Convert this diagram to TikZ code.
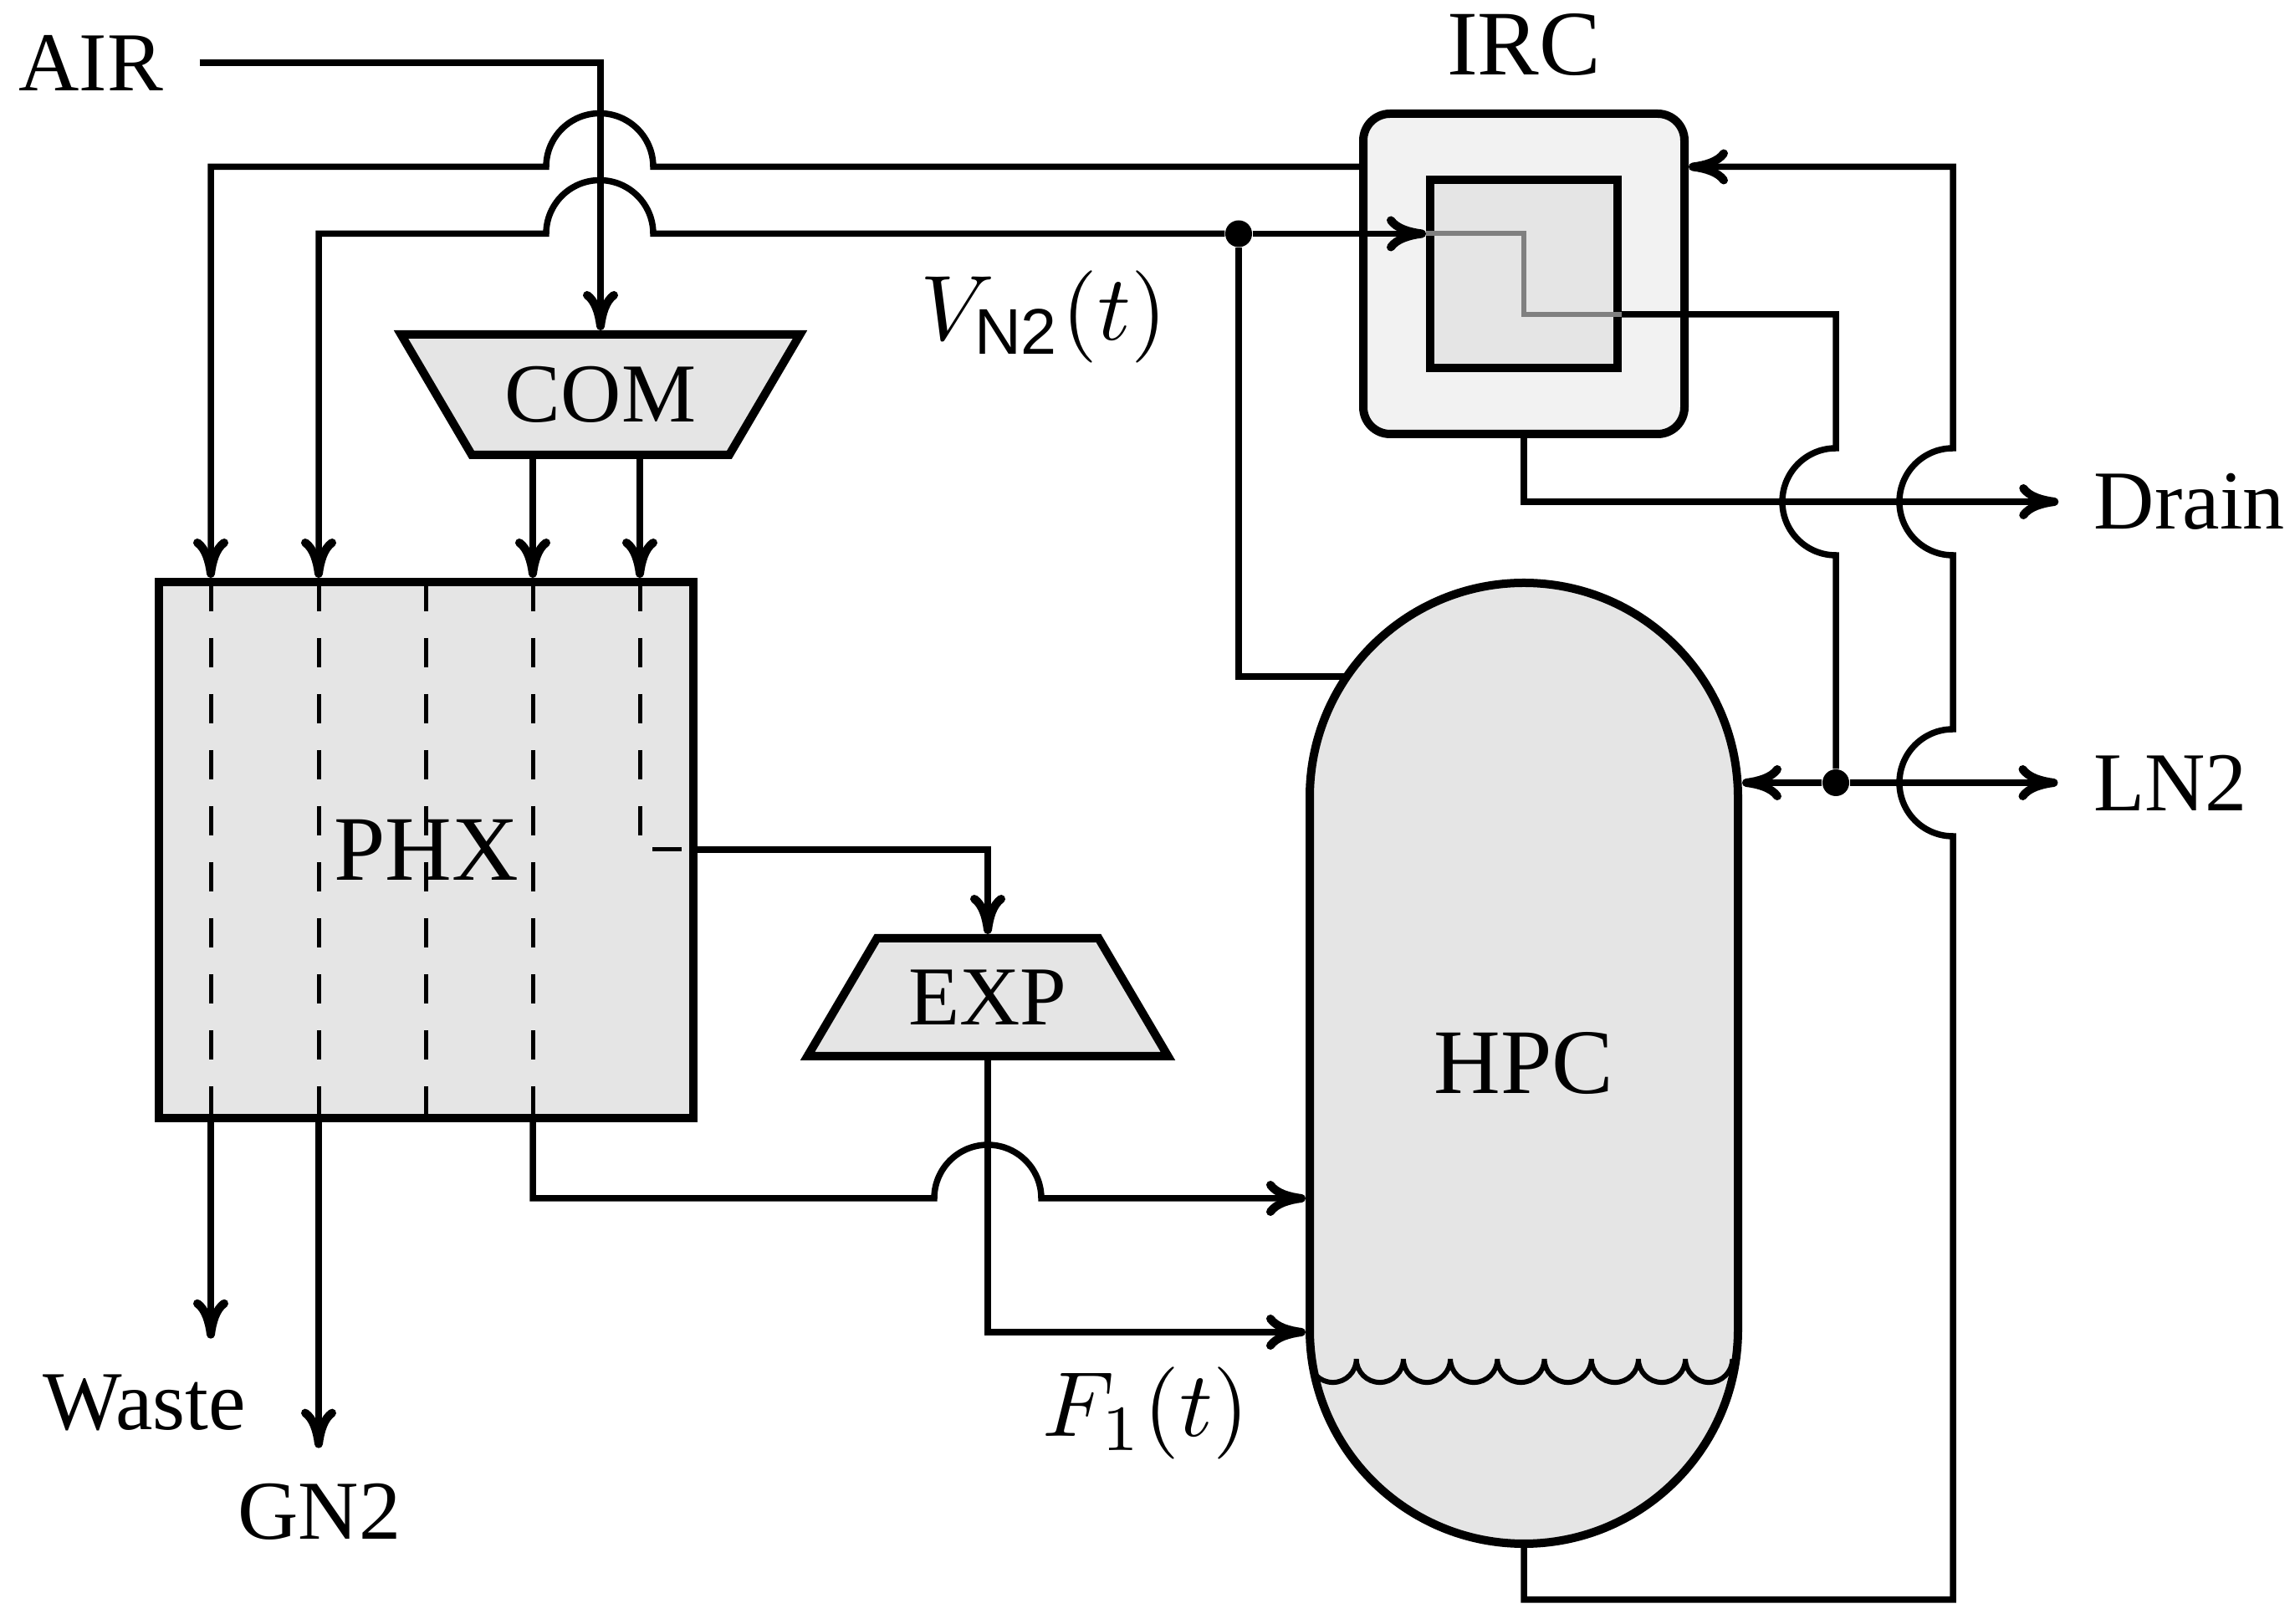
\documentclass[tikz,border=0pt]{standalone}
\usepackage{amsmath}
\usepackage[no-math]{fontspec}
\setmainfont{Liberation Serif}
\setsansfont{Liberation Sans}
\usetikzlibrary{arrows.meta,shapes.geometric}

\tikzset{
    >={Computer Modern Rightarrow[width=0.42cm,length=0.47cm,line width=0.1cm]},
    flow/.style={line width=0.075cm},
    dashflow/.style={line width=0.05cm, dash pattern=on 0.35cm off 0.32cm},
    vessel/.style={draw, line width=0.1cm, fill=black!10, font=\fontsize{28.5}{32}\selectfont},
    tag/.style={font=\fontsize{28.5}{32}\selectfont, inner sep=0.42cm},
    bigtag/.style={font=\fontsize{31.4}{36}\selectfont},
    mathtag/.style={scale=3.14},
    joint/.style={circle, fill=black, inner sep=0pt, minimum size=0.32cm}
}

\begin{document}
\begin{tikzpicture}
    \useasboundingbox (0, 0) rectangle (27.44, 19.42);

    \coordinate (colA) at (2.52, 12.46);
    \coordinate (colB) at (3.81, 12.46);
    \coordinate (colC) at (5.09, 12.46);
    \coordinate (colD) at (6.37, 12.46);
    \coordinate (colE) at (7.65, 12.46);

    \coordinate (jumpA) at (7.81, 17.425);
    \coordinate (jumpB) at (7.81, 16.625);
    \coordinate (jumpC) at (11.17, 5.09);

    \coordinate (phxOut) at (8.29, 9.26);
    \coordinate (hpcJoin) at (16.14, 11.33);
    \coordinate (hpcFeed) at (15.68, 3.49);
    \coordinate (ircBend) at (18.22, 15.66);

    \coordinate (riseA) at (21.95, 14.06);
    \coordinate (riseB) at (23.35, 9.42);
    \coordinate (riseC) at (23.35, 12.78);
    \coordinate (loopA) at (18.22, 0.29);
    \coordinate (loopB) at (23.35, 0.29);

    % Vessels
    \node[vessel, minimum width=6.39cm, minimum height=6.41cm, font=\fontsize{31.4}{36}\selectfont] (phx) at (5.095, 9.255) {PHX};
    \node[vessel, trapezium, shape border rotate=180, trapezium angle=47, trapezium stretches body=true, minimum width=4.77cm, minimum height=1.44cm] (com) at (7.18, 14.70) {COM};
    \node[vessel, trapezium, trapezium angle=47, trapezium stretches body=true, minimum width=4.31cm, minimum height=1.41cm] (exp) at (11.81, 7.495) {EXP};
    \node[vessel, fill=black!5, minimum width=3.84cm, minimum height=3.83cm, rounded corners=0.32cm] (irc) at (18.22, 16.145) {};
    \node[vessel, minimum width=2.24cm, minimum height=2.25cm] (ircIn) at (18.22, 16.145) {};
    \node[vessel, minimum width=5.12cm, minimum height=11.49cm, rounded corners=2.56cm, font=\fontsize{31.4}{36}\selectfont,
        path picture={
            \draw[sharp corners, line width=0.06cm] ([xshift=-2.565cm, yshift=-3.535cm]path picture bounding box.center)
                \foreach \i in {1,...,9} { arc (180:360:0.281) };
        }] (hpc) at (18.22, 6.705) {HPC};

    % Labeling
    \node[tag, inner sep=0.43cm] (airLabel) at (1.087, 18.67) {AIR};
    \node[bigtag] (ircLabel) at (18.22, 18.88) {IRC};
    \node[tag] (drainLabel) at (26.18, 13.42) {Drain};
    \node[tag] (lnLabel) at (25.95, 10.06) {LN2};
    \node[tag] (wasteLabel) at (1.73, 2.65) {Waste};
    \node[tag] (gnLabel) at (3.82, 1.34) {GN2};
    \node[mathtag] (vLabel) at (12.48, 15.63) {$V_{\textsf{N2}}(t)$};
    \node[mathtag] (fLabel) at (13.70, 2.52) {$F_1(t)$};

    \node[joint] (dotA) at (14.81, 16.625) {};
    \node[joint] (dotB) at (21.95, 10.06) {};

    % Draw
    \draw[flow, ->] (airLabel.east) -| (com.north);

    \draw[flow, ->] (irc.west |- jumpA) -- (jumpA) arc (0:180:0.64) -- (colA |- jumpA) -- (colA |- phx.north);
    \draw[flow, ->] (dotA) -- (jumpB) arc (0:180:0.64) -- (colB |- jumpB) -- (colB |- phx.north);
    \draw[flow, ->] (dotA) -- (ircIn.west |- dotA);
    \draw[flow] (dotA) -- (dotA |- hpcJoin) -- (hpcJoin);

    \draw[line width=0.06cm, black!50] (ircIn.west |- dotA) -| (ircBend) -- (ircIn.east |- ircBend);
    \draw[flow] (ircIn.east |- ircBend) -| (riseA) arc (90:270:0.64) -- (dotB);

    \draw[flow, ->] (irc.south) |- (drainLabel.west);
    \draw[flow, ->] (dotB) -- (lnLabel.west);
    \draw[flow, ->] (dotB) -- (hpc.east |- dotB);

    \draw[flow, ->] (hpc.south) -- (loopA) -- (loopB) -- (riseB) arc (270:90:0.64) -- (riseC) arc (270:90:0.64) -- (loopB |- jumpA) -- (irc.east |- jumpA);

    \foreach \point in {colD, colE}
        \draw[flow, ->] (\point |- com.south) -- (\point |- phx.north);

    \foreach \point in {colA, colB, colC, colD}
        \draw[dashflow] (\point) -- (\point |- phx.south);
    \draw[dashflow] (colE) |- (phxOut);

    \draw[flow, ->] (phxOut) -| (exp.north);
    \draw[flow, ->] (exp.south) |- (hpc.west |- hpcFeed);
    \draw[flow, ->] (colA |- phx.south) -- (colA |- wasteLabel.north);
    \draw[flow, ->] (colB |- phx.south) -- (colB |- gnLabel.north);
    \draw[flow, ->] (colD |- phx.south) |- (jumpC) arc (180:0:0.64) -- (hpc.west |- jumpC);
\end{tikzpicture}
\end{document}
